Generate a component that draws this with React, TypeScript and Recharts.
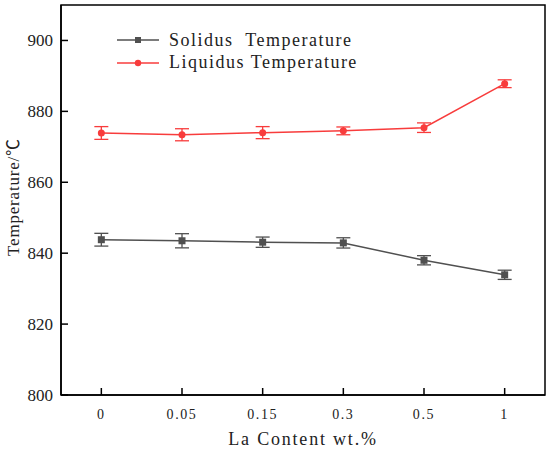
import React from "react";
import { LineChart, Line, XAxis, YAxis, ErrorBar, ReferenceArea } from "recharts";

// La content (wt.%) categories, placed at positions 0..5 on the x axis
const categories = ["0", "0.05", "0.15", "0.3", "0.5", "1"];
const solidus = [843.8, 843.5, 843.1, 842.9, 838.0, 833.9];
const solidusErr = [1.8, 2.0, 1.45, 1.45, 1.3, 1.3];
const liquidus = [873.9, 873.4, 874.0, 874.5, 875.4, 887.8];
const liquidusErr = [1.8, 1.7, 1.7, 1.1, 1.35, 1.1];
const yTicks = [800, 820, 840, 860, 880, 900];
const yDomain = [800, 910];
const xDomain = [-0.5, categories.length - 0.5];
const xTicks = categories.map((_, i) => i);

const GREY = "#505050";
const RED = "#f83c3c";
const SERIF = "'Liberation Serif', 'Times New Roman', 'Noto Sans CJK SC', serif";

const data = categories.map((c, i) => ({
  idx: i,
  la: c,
  solidus: solidus[i],
  solidusErr: solidusErr[i],
  liquidus: liquidus[i],
  liquidusErr: liquidusErr[i],
}));

function YTick(props: any) {
  const { x, y, payload } = props;
  return (
    <g>
      <line x1={x} x2={x + 7} y1={y} y2={y} stroke="#000" strokeWidth={1.5} />
      <text x={x - 8} y={y} textAnchor="end" dominantBaseline="central" style={{ fontFamily: SERIF, fontSize: 17 }} fill="#222">
        {payload.value}
      </text>
    </g>
  );
}

function XTick(props: any) {
  const { x, y, payload } = props;
  return (
    <g>
      <line x1={x} x2={x} y1={y} y2={y - 7} stroke="#000" strokeWidth={1.5} />
      <text x={x} y={y + 19} textAnchor="middle" dominantBaseline="central" style={{ fontFamily: SERIF, fontSize: 14, letterSpacing: 1.6 }} fill="#222">
        {categories[payload.value]}
      </text>
    </g>
  );
}

function SquareDot(props: any) {
  const { cx, cy, index } = props;
  return <rect key={`s${index}`} x={cx - 3.5} y={cy - 3.5} width={7} height={7} fill={GREY} />;
}

function CircleDot(props: any) {
  const { cx, cy, index } = props;
  return <circle key={`c${index}`} cx={cx} cy={cy} r={3.5} fill={RED} />;
}

const legendItems = [
  { name: "Solidus  Temperature", color: GREY, shape: "square" },
  { name: "Liquidus Temperature", color: RED, shape: "circle" },
];

function LegendBox() {
  return (
    <div style={{ position: "absolute", top: 29, left: 117, fontFamily: SERIF, fontSize: 18, letterSpacing: 1.5, color: "#222", whiteSpace: "pre" }}>
      {legendItems.map((it) => (
        <div key={it.name} style={{ display: "flex", alignItems: "center", height: 22.6 }}>
          <svg width={42} height={10} style={{ marginRight: 10 }}>
            <line x1={0} x2={42} y1={5} y2={5} stroke={it.color} strokeWidth={1.5} />
            {it.shape === "square" ? (
              <rect x={18} y={2} width={6} height={6} fill={it.color} />
            ) : (
              <circle cx={21} cy={5} r={3.2} fill={it.color} />
            )}
          </svg>
          <span>{it.name}</span>
        </div>
      ))}
    </div>
  );
}

const frameLine = { stroke: "#000", strokeWidth: 1.5 };

export default function App() {
  return (
    <div style={{ position: "absolute", left: 0, top: 0, width: 550, height: 454, background: "#fff" }}>
      <LineChart width={550} height={454} data={data} margin={{ top: 5, right: 5, bottom: 0, left: 0 }}>
        <XAxis
          type="number"
          dataKey="idx"
          domain={xDomain}
          ticks={xTicks}
          height={59}
          tickSize={0}
          tickMargin={0}
          tick={<XTick />}
          axisLine={frameLine}
          tickLine={false}
          interval={0}
          allowDataOverflow
          label={(p: any) => {
            const vb = p.viewBox;
            return (
              <text x={vb.x + vb.width / 2} y={vb.y + 44} textAnchor="middle" dominantBaseline="central" style={{ fontFamily: SERIF, fontSize: 18, letterSpacing: 1.8 }} fill="#222">
                La Content wt.%
              </text>
            );
          }}
        />
        <YAxis
          width={61}
          domain={yDomain}
          ticks={yTicks}
          tickSize={0}
          tickMargin={0}
          tick={<YTick />}
          tickLine={false}
          axisLine={frameLine}
          allowDataOverflow
          label={(p: any) => {
            const vb = p.viewBox;
            const cx = vb.x + 13;
            const cy = vb.y + vb.height / 2 - 3;
            return (
              <text x={cx} y={cy} transform={`rotate(-90 ${cx} ${cy})`} textAnchor="middle" dominantBaseline="central" style={{ fontFamily: SERIF, fontSize: 17, letterSpacing: 0.8 }} fill="#222">
                Temperature/℃
              </text>
            );
          }}
        />
        {/* plot frame around the full data area */}
        <ReferenceArea x1={xDomain[0]} x2={xDomain[1]} y1={yDomain[0]} y2={yDomain[1]} fill="none" stroke="#000" strokeWidth={1.5} ifOverflow="visible" />
        <Line
          dataKey="solidus"
          name="Solidus  Temperature"
          stroke={GREY}
          strokeWidth={1.5}
          dot={SquareDot}
          activeDot={false}
          isAnimationActive={false}
        >
          <ErrorBar dataKey="solidusErr" width={7} stroke={GREY} strokeWidth={1.3} direction="y" isAnimationActive={false} />
        </Line>
        <Line
          dataKey="liquidus"
          name="Liquidus Temperature"
          stroke={RED}
          strokeWidth={1.5}
          dot={CircleDot}
          activeDot={false}
          isAnimationActive={false}
        >
          <ErrorBar dataKey="liquidusErr" width={7} stroke={RED} strokeWidth={1.3} direction="y" isAnimationActive={false} />
        </Line>
      </LineChart>
      <LegendBox />
    </div>
  );
}
